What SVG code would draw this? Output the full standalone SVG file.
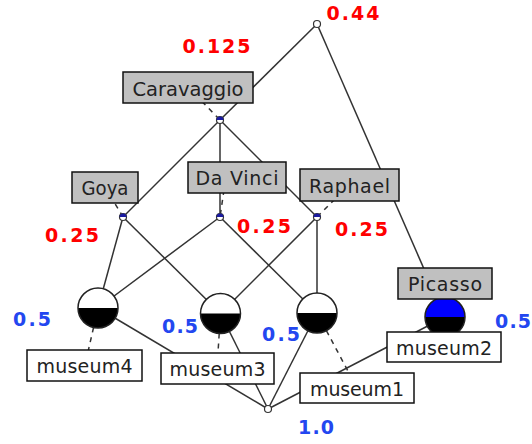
<svg xmlns="http://www.w3.org/2000/svg" width="532" height="444" viewBox="0 0 532 444">
<style>
.edge{stroke:#333;stroke-width:1.5;fill:none}
.dash{stroke:#333;stroke-width:1.5;fill:none;stroke-dasharray:5,5}
.attr{fill:#c0c0c0;stroke:#111;stroke-width:1.5}
.obj{fill:#fff;stroke:#111;stroke-width:1.5}
.lbl{font-family:"DejaVu Sans",sans-serif;font-size:19px;fill:#222;text-anchor:middle}
.red{font-family:"DejaVu Sans",sans-serif;font-weight:bold;font-size:19px;fill:#ff0000}
.blue{font-family:"DejaVu Sans",sans-serif;font-weight:bold;font-size:19px;fill:#2347f0}
.node{fill:#fff;stroke:#333;stroke-width:1.2}
.big{stroke:#222;stroke-width:1.5}
</style>
<rect width="532" height="444" fill="#fff"/>
<g id="connectors">
<line class="edge" x1="317" y1="24" x2="220" y2="120"/>
<line class="edge" x1="317" y1="24" x2="445" y2="317"/>
<line class="edge" x1="220" y1="120" x2="123" y2="217"/>
<line class="edge" x1="220" y1="120" x2="220" y2="217"/>
<line class="edge" x1="220" y1="120" x2="317" y2="217"/>
<line class="edge" x1="123" y1="217" x2="98" y2="308"/>
<line class="edge" x1="123" y1="217" x2="220.5" y2="313.5"/>
<line class="edge" x1="220" y1="217" x2="98" y2="308"/>
<line class="edge" x1="220" y1="217" x2="317" y2="313"/>
<line class="edge" x1="317" y1="217" x2="220.5" y2="313.5"/>
<line class="edge" x1="317" y1="217" x2="317" y2="313"/>
<line class="edge" x1="98" y1="308" x2="268" y2="409"/>
<line class="edge" x1="220.5" y1="313.5" x2="268" y2="409"/>
<line class="edge" x1="317" y1="313" x2="268" y2="409"/>
<line class="edge" x1="445" y1="317" x2="268" y2="409"/>
<line class="dash" x1="188" y1="87" x2="220" y2="120"/>
<line class="dash" x1="105" y1="187" x2="123" y2="217"/>
<line class="dash" x1="224" y1="190" x2="220" y2="217"/>
<line class="dash" x1="349" y1="185" x2="317" y2="217"/>
<line class="dash" x1="98" y1="308" x2="85" y2="365"/>
<line class="dash" x1="220.5" y1="313.5" x2="217" y2="368"/>
<line class="dash" x1="317" y1="313" x2="357" y2="388"/>
</g>
<g id="n-top"><circle class="node" cx="317" cy="24" r="3.5"/></g>
<g id="n-bottom"><circle class="node" cx="268" cy="409" r="3.5"/></g>
<g id="n-caravaggio-node"><circle class="node" cx="220" cy="120" r="3.5"/><path d="M216.5,120 A3.5,3.5 0 0 1 223.5,120 Z" fill="#1a1aa0"/></g>
<g id="n-goya-node"><circle class="node" cx="123" cy="217" r="3.5"/><path d="M119.5,217 A3.5,3.5 0 0 1 126.5,217 Z" fill="#1a1aa0"/></g>
<g id="n-davinci-node"><circle class="node" cx="220" cy="217" r="3.5"/><path d="M216.5,217 A3.5,3.5 0 0 1 223.5,217 Z" fill="#1a1aa0"/></g>
<g id="n-raphael-node"><circle class="node" cx="317" cy="217" r="3.5"/><path d="M313.5,217 A3.5,3.5 0 0 1 320.5,217 Z" fill="#1a1aa0"/></g>
<g id="n-c1"><circle cx="98" cy="308" r="20" fill="#fff"/><path d="M78,308 A20,20 0 0 0 118,308 Z" fill="#000"/><circle class="big" cx="98" cy="308" r="20" fill="none"/></g>
<g id="n-c2"><circle cx="220.5" cy="313.5" r="20" fill="#fff"/><path d="M200.5,313.5 A20,20 0 0 0 240.5,313.5 Z" fill="#000"/><circle class="big" cx="220.5" cy="313.5" r="20" fill="none"/></g>
<g id="n-c3"><circle cx="317" cy="313" r="20" fill="#fff"/><path d="M297,313 A20,20 0 0 0 337,313 Z" fill="#000"/><circle class="big" cx="317" cy="313" r="20" fill="none"/></g>
<g id="n-c4"><path d="M425,317 A20,20 0 0 1 465,317 Z" fill="#0000ff"/><path d="M425,317 A20,20 0 0 0 465,317 Z" fill="#000"/><circle class="big" cx="445" cy="317" r="20" fill="none"/></g>
<g id="caravaggio"><rect class="attr" x="123" y="72" width="130" height="31"/><text class="lbl" x="188" y="95.5" textLength="111" lengthAdjust="spacingAndGlyphs">Caravaggio</text></g>
<g id="goya"><rect class="attr" x="72" y="172" width="66" height="31"/><text class="lbl" x="105" y="195" textLength="47" lengthAdjust="spacingAndGlyphs">Goya</text></g>
<g id="davinci"><rect class="attr" x="188" y="162" width="98" height="31"/><text class="lbl" x="237" y="185" textLength="83" lengthAdjust="spacing">Da Vinci</text></g>
<g id="raphael"><rect class="attr" x="300" y="169" width="99" height="32"/><text class="lbl" x="349.5" y="192.5" textLength="81" lengthAdjust="spacing">Raphael</text></g>
<g id="picasso"><rect class="attr" x="398" y="268" width="94" height="31"/><text class="lbl" x="445" y="291" textLength="74" lengthAdjust="spacing">Picasso</text></g>
<g id="museum4"><rect class="obj" x="27" y="350" width="115" height="31"/><text class="lbl" x="84.5" y="373" textLength="96" lengthAdjust="spacing">museum4</text></g>
<g id="museum3"><rect class="obj" x="161" y="353" width="113" height="31"/><text class="lbl" x="217.5" y="376" textLength="96" lengthAdjust="spacing">museum3</text></g>
<g id="museum1"><rect class="obj" x="300" y="373" width="114" height="30"/><text class="lbl" x="357" y="395.5" textLength="94" lengthAdjust="spacing">museum1</text></g>
<g id="museum2"><rect class="obj" x="387" y="332" width="114" height="30"/><text class="lbl" x="444" y="354.5" textLength="96" lengthAdjust="spacing">museum2</text></g>
<g id="values">
<text class="red" x="326.5" y="20" textLength="53" lengthAdjust="spacing">0.44</text>
<text class="red" x="182.5" y="53" textLength="68" lengthAdjust="spacing">0.125</text>
<text class="red" x="45" y="242" textLength="54" lengthAdjust="spacing">0.25</text>
<text class="red" x="237" y="233" textLength="54" lengthAdjust="spacing">0.25</text>
<text class="red" x="335" y="236" textLength="53" lengthAdjust="spacing">0.25</text>
<text class="blue" x="13" y="326" textLength="38" lengthAdjust="spacing">0.5</text>
<text class="blue" x="162" y="333" textLength="36" lengthAdjust="spacing">0.5</text>
<text class="blue" x="262" y="341" textLength="38" lengthAdjust="spacing">0.5</text>
<text class="blue" x="495" y="328" textLength="36" lengthAdjust="spacing">0.5</text>
<text class="blue" x="298" y="434" textLength="36" lengthAdjust="spacing">1.0</text>
</g>
</svg>
